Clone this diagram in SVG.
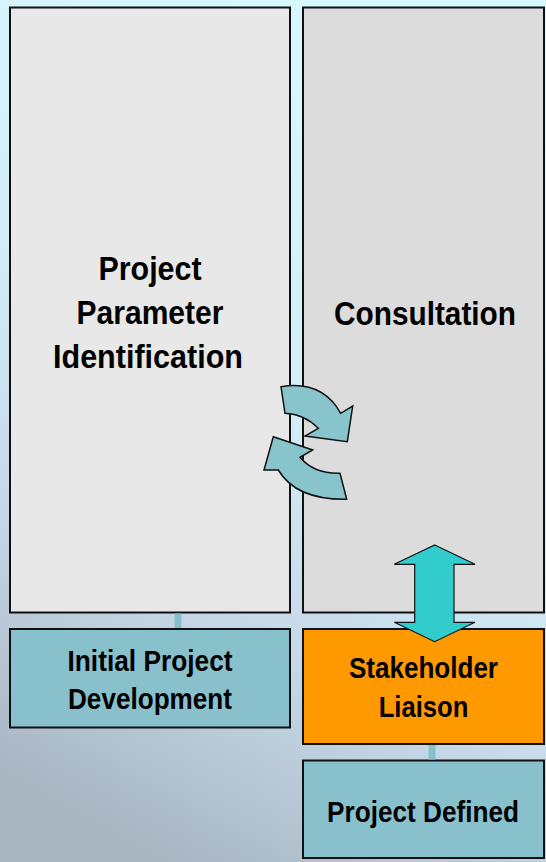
<svg xmlns="http://www.w3.org/2000/svg" width="546" height="862" viewBox="0 0 546 862">
<defs>
<linearGradient id="bg" x1="0.65" y1="0" x2="0.3" y2="1">
<stop offset="0" stop-color="#d6fafe"/>
<stop offset="0.45" stop-color="#d2eef8"/>
<stop offset="0.72" stop-color="#c6d8e8"/>
<stop offset="1" stop-color="#a8b6c2"/>
</linearGradient>
<style>
.box{stroke:#111;stroke-width:2}
.tall1{fill:#e8e8e8}
.tall2{fill:#dcdcdc}
.teal{fill:#88c0cc}
.orange{fill:#ff9900}
.t{font-family:"Liberation Sans",Arial,sans-serif;font-weight:bold;fill:#000;text-anchor:middle}
.big{font-size:33px}
.small{font-size:30px}
.conn{stroke:#88c0cc;stroke-width:7;fill:none}
.circ{fill:#88c4cc;stroke:#111;stroke-width:1.5;stroke-linejoin:miter}
.dbl{fill:#33cccc;stroke:#111;stroke-width:1.2}
</style>
</defs>
<rect x="0" y="0" width="546" height="862" fill="url(#bg)"/>
<g id="nodes">
<g id="param">
<rect class="box tall1" x="10" y="7.5" width="280" height="605"/>
<text class="t big" x="150" y="280" textLength="103" lengthAdjust="spacingAndGlyphs">Project</text>
<text class="t big" x="150" y="324" textLength="147" lengthAdjust="spacingAndGlyphs">Parameter</text>
<text class="t big" x="148" y="368" textLength="190" lengthAdjust="spacingAndGlyphs">Identification</text>
</g>
<g id="consult">
<rect class="box tall2" x="303" y="7.5" width="241" height="605"/>
<text class="t big" x="425" y="325" textLength="182" lengthAdjust="spacingAndGlyphs">Consultation</text>
</g>
<g id="initial">
<rect class="box teal" x="10" y="629" width="280" height="98.5"/>
<text class="t small" x="150" y="671" textLength="165" lengthAdjust="spacingAndGlyphs">Initial Project</text>
<text class="t small" x="150" y="709" textLength="164" lengthAdjust="spacingAndGlyphs">Development</text>
</g>
<g id="stakeholder">
<rect class="box orange" x="303" y="629" width="241" height="115"/>
<text class="t small" x="423.5" y="678" textLength="149" lengthAdjust="spacingAndGlyphs">Stakeholder</text>
<text class="t small" x="423.5" y="717" textLength="89.5" lengthAdjust="spacingAndGlyphs">Liaison</text>
</g>
<g id="defined">
<rect class="box teal" x="303" y="760.5" width="241" height="97.5"/>
<text class="t small" x="423" y="822" textLength="192" lengthAdjust="spacingAndGlyphs">Project Defined</text>
</g>
</g>
<g id="connectors">
<line class="conn" x1="178" y1="613.5" x2="178" y2="628"/>
<line class="conn" x1="432" y1="745" x2="432" y2="759.5"/>
<path class="circ" d="M281,386.7 Q322,380 340.7,413.3 L352.7,406 L347.3,441.7 L305,436 L318.3,428.3 Q304,414 285,413.3 Z"/>
<path class="circ" d="M273.3,436.7 L312.7,450 L300,457.3 Q314,474 340,473.3 L346.7,499.3 Q296,500 278.3,470 L264,470 Z"/>
<path class="dbl" d="M434.7,545 L475,564.3 L454,564.3 L454,622.3 L475,622.3 L434.7,641.7 L394.3,622.3 L414.7,622.3 L414.7,564.3 L394.3,564.3 Z"/>
</g>
</svg>
